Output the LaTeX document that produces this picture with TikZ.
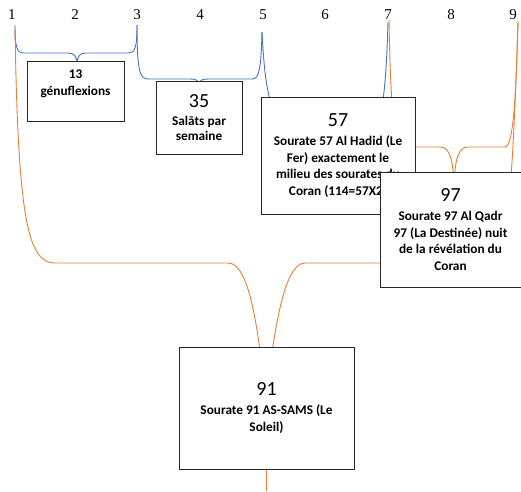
\documentclass[tikz,border=0pt]{standalone}
\usepackage{fontspec}
\setmainfont{Liberation Serif}
\newfontfamily\calibri{Carlito}
\definecolor{wordblue}{HTML}{4472C4}
\definecolor{wordorange}{HTML}{ED7D31}
\begin{document}
\begin{tikzpicture}[x=1pt,y=-1pt,
	num node/.style = {inner sep = 0pt, font=\fontsize{15}{15}\selectfont},
	box node/.style = {draw=black!85, line width=1pt, fill=white, align=center, inner sep=0pt,
		font=\calibri\bfseries\fontsize{13.3}{16.5}\selectfont},
	blue brace/.style = {draw=wordblue, line width=0.9pt},
	orange brace/.style = {draw=wordorange, line width=0.9pt}]
	
	\useasboundingbox (0,0) rectangle (521,491);
	
	% numbers on top
	\foreach \i/\x in {1/12,2/75,3/137,4/200,5/263,6/325,7/388,8/451,9/513}
	\node[num node] (n\i) at (\x,15) {\i};
	
	\coordinate (t1) at (15,25);
	\coordinate (t1o) at (15,28);
	\coordinate (t3) at (137,25);
	\coordinate (t5) at (262,32);
	\coordinate (t7b) at (388,22);
	\coordinate (t7o) at (389,20);
	\coordinate (t9) at (518,22);
	\coordinate (tip) at (266,400);
	\coordinate (foot) at (266,491);
	
	% braces
	\path[blue brace]
	(t1) .. controls (15,48) and (17,53) .. (24,53) -- (68,53)
	.. controls (74,53) and (77,56) .. (77,64)
	.. controls (77,56) and (80,53) .. (86,53) -- (128,53)
	.. controls (135,53) and (137,48) .. (t3);
	\path[blue brace]
	(t3) .. controls (137,72) and (140,79) .. (148,79) -- (190,79)
	.. controls (196,79) and (199,80) .. (199,86)
	.. controls (199,80) and (202,79) .. (208,79) -- (252,79)
	.. controls (259,79) and (261,70) .. (t5);
	\path[blue brace]
	(t5) .. controls (265,90) and (270,130) .. (300,130) -- (370,130)
	.. controls (382,130) and (386,90) .. (t7b);
	\path[orange brace]
	(t7o) .. controls (391,130) and (395,147) .. (410,147) -- (440,147)
	.. controls (450,147) and (453,160) .. (454,185)
	.. controls (455,160) and (458,147) .. (468,147) -- (505,147)
	.. controls (513,147) and (516,100) .. (t9);
	\path[orange brace]
	(t1o) .. controls (18,220) and (28,263) .. (55,263) -- (228,263)
	.. controls (250,263) and (258,330) .. (tip)
	.. controls (274,330) and (284,263) .. (305,263) -- (485,263)
	.. controls (508,263) and (512,200) .. (t9);
	\draw[orange brace] (tip) -- (foot);
	
	% boxes
	\node[box node, minimum width=97pt, minimum height=60pt] (g13) at (75.5,91)
	{13\\g\'enuflexions\\~};
	\node[box node, minimum width=86pt, minimum height=73pt,
		font=\calibri\bfseries\fontsize{13.3}{14.5}\selectfont] (s35) at (199,117.5)
	{{\mdseries\fontsize{20}{20}\selectfont 35}\\[4pt]Salāts par\\semaine};
	\node[box node, minimum width=154pt, minimum height=117pt] (s57) at (338,155.5)
	{{\mdseries\fontsize{20}{20}\selectfont 57}\\[3pt]Sourate 57 Al Hadid (Le\\Fer) exactement le\\milieu des sourates du\\Coran (114=57X2)};
	\node[box node, minimum width=141pt, minimum height=115pt] (s97) at (450.5,229.5)
	{{\mdseries\fontsize{20}{20}\selectfont 97}\\[3pt]Sourate 97 Al Qadr\\97 (La Destinée) nuit\\de la révélation du\\Coran};
	\node[box node, minimum width=175pt, minimum height=122pt] (s91) at (266.5,408)
	{{\mdseries\fontsize{20}{20}\selectfont 91}\\[3pt]Sourate 91 AS-SAMS (Le\\Soleil)};
\end{tikzpicture}
\end{document}
